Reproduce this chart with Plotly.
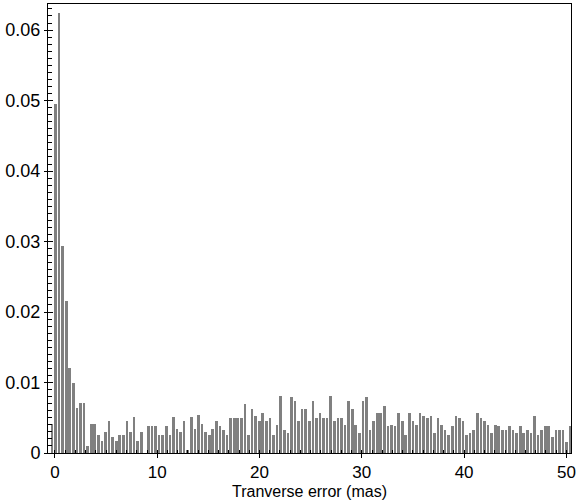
import plotly.graph_objects as go

# Histogram bin layout (data): first bin centre and bin width, in mas
bin_start = -0.30
bin_width = 0.3495

# Normalised frequency per bin
freq = [
    0.0041, 0.0495, 0.0624, 0.0294, 0.0216, 0.0120, 0.0099, 0.0064, 0.0071, 0.0071,
    0.0010, 0.0041, 0.0041, 0.0026, 0.0017, 0.0030, 0.0045, 0.0023, 0.0017, 0.0026,
    0.0026, 0.0045, 0.0030, 0.0051, 0.0017, 0.0030, 0.0000, 0.0038, 0.0038, 0.0038,
    0.0026, 0.0026, 0.0038, 0.0026, 0.0051, 0.0034, 0.0030, 0.0045, 0.0004, 0.0051,
    0.0034, 0.0054, 0.0041, 0.0030, 0.0026, 0.0034, 0.0045, 0.0038, 0.0033, 0.0025,
    0.0050, 0.0050, 0.0050, 0.0050, 0.0070, 0.0025, 0.0063, 0.0053, 0.0045, 0.0057,
    0.0045, 0.0050, 0.0025, 0.0040, 0.0081, 0.0033, 0.0029, 0.0079, 0.0074, 0.0045,
    0.0063, 0.0063, 0.0045, 0.0074, 0.0050, 0.0057, 0.0050, 0.0050, 0.0081, 0.0045,
    0.0050, 0.0050, 0.0040, 0.0074, 0.0063, 0.0040, 0.0029, 0.0074, 0.0079, 0.0033,
    0.0045, 0.0057, 0.0057, 0.0066, 0.0038, 0.0040, 0.0038, 0.0057, 0.0045, 0.0025,
    0.0057, 0.0045, 0.0040, 0.0057, 0.0053, 0.0050, 0.0053, 0.0029, 0.0050, 0.0040,
    0.0033, 0.0025, 0.0038, 0.0053, 0.0050, 0.0045, 0.0025, 0.0029, 0.0033, 0.0057,
    0.0050, 0.0045, 0.0040, 0.0029, 0.0040, 0.0038, 0.0033, 0.0033, 0.0038, 0.0033,
    0.0029, 0.0038, 0.0029, 0.0033, 0.0029, 0.0053, 0.0025, 0.0033, 0.0038, 0.0038,
    0.0022, 0.0033, 0.0033, 0.0033, 0.0016, 0.0038,
]
bin_centres = [bin_start + i * bin_width for i in range(len(freq))]

x_tickvals = [0, 10, 20, 30, 40, 50]
y_tickvals = [0, 0.01, 0.02, 0.03, 0.04, 0.05, 0.06]
y_ticktext = ["0", "0.01", "0.02", "0.03", "0.04", "0.05", "0.06"]
x_title = "Tranverse error (mas)"

XR = [-0.68, 50.45]
YR = [0, 0.0637]
FONT = "Liberation Sans, Arial, sans-serif"

fig = go.Figure()
fig.add_trace(go.Bar(
    x=bin_centres, y=freq, width=0.26,
    marker=dict(color="rgb(128,128,128)", line=dict(width=0)),
    showlegend=False, hoverinfo="x+y",
))
# empty trace so the overlay axes (inner half of crossing ticks) are drawn
fig.add_trace(go.Scatter(x=[None], y=[None], xaxis="x2", yaxis="y2",
                         showlegend=False, hoverinfo="skip"))

fig.update_layout(
    width=579, height=503,
    margin=dict(l=48, r=3, t=4, b=50),
    paper_bgcolor="white", plot_bgcolor="white",
    font=dict(family=FONT, size=16, color="black"),
    bargap=0,
    xaxis=dict(
        range=XR, tickvals=x_tickvals, ticks="outside", ticklen=4, tickwidth=1,
        tickcolor="black", showline=True, linecolor="black", linewidth=1,
        mirror=True, showgrid=False, zeroline=False,
        tickfont=dict(size=17), ticklabeloverflow="allow",
        minor=dict(ticks="inside", ticklen=3, dtick=1, tickcolor="black", showgrid=False),
        title=dict(text=x_title, font=dict(size=16), standoff=4),
    ),
    yaxis=dict(
        range=YR, tickvals=y_tickvals, ticktext=y_ticktext, ticks="outside",
        ticklen=3, tickwidth=1, tickcolor="black", showline=True,
        linecolor="black", linewidth=1, mirror=True, showgrid=False,
        zeroline=False, tickfont=dict(size=18), ticklabeloverflow="allow",
        minor=dict(ticks="inside", ticklen=4, dtick=0.001, tickcolor="black", showgrid=False),
    ),
    xaxis2=dict(
        range=XR, overlaying="x", anchor="y2", side="bottom", tickvals=x_tickvals,
        ticks="inside", ticklen=3, tickcolor="black", showticklabels=False,
        showgrid=False, zeroline=False, showline=False,
    ),
    yaxis2=dict(
        range=YR, overlaying="y", anchor="x2", side="left", tickvals=y_tickvals,
        ticks="inside", ticklen=5, tickcolor="black", showticklabels=False,
        showgrid=False, zeroline=False, showline=False,
    ),
)

fig.write_html(
    "out.html",
    config={"displayModeBar": False},
    post_script="document.body.style.margin='0';document.body.style.overflow='hidden';",
)
